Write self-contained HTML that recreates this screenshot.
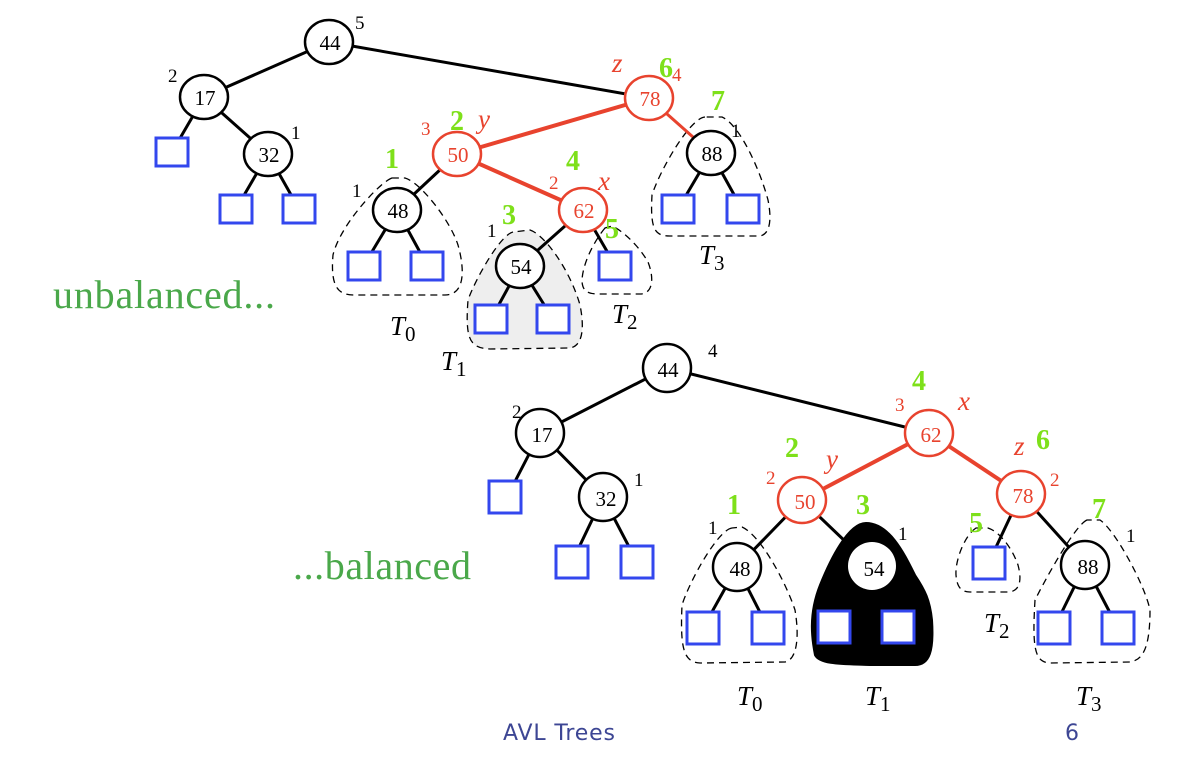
<!DOCTYPE html>
<html><head><meta charset="utf-8"><style>
html,body{margin:0;padding:0;background:#fff;}
svg{display:block;}
text{font-family:"Liberation Serif",serif;}
.n{fill:#fff;stroke:#000;stroke-width:2.5}
.r{fill:#fff;stroke:#e8432e;stroke-width:2.5}
.sq{fill:#fff;stroke:#3347ee;stroke-width:3}
.e{stroke:#000;stroke-width:3}
.re{stroke:#e8432e;stroke-width:4}
.d{fill:none;stroke:#000;stroke-width:1.3;stroke-dasharray:7,5}
.t{font-size:21px;text-anchor:middle}
.rt{font-size:21px;text-anchor:middle;fill:#e8432e}
.h{font-size:19px;fill:#000}
.rh{font-size:19px;fill:#e8432e}
.g{font-size:28px;font-weight:bold;fill:#7ee01a}
.it{font-style:italic;font-size:27px;fill:#e8432e}
.T{font-style:italic;font-size:27px}
.sub{font-size:21px;font-style:normal}
</style></head><body>
<svg width="1201" height="761" viewBox="0 0 1201 761">
<!-- TOP TREE -->
<path class="d" d="M392,178 C380,182 340,225 333,255 C330,290 340,295 355,295 L445,295 C465,295 465,270 458,245 C450,220 420,182 405,178 Z"/>
<path fill="#eeeeee" stroke="#000" stroke-width="1.3" stroke-dasharray="7,5" d="M513,232 C500,235 475,280 468,300 C465,340 470,348 490,349 L570,348 C582,346 585,330 580,305 C570,270 545,235 530,230 Z"/>
<path class="d" d="M605,228 C595,240 583,262 582,280 C582,293 590,294 600,294 L640,294 C652,294 655,280 648,262 C640,248 625,232 612,226 Z"/>
<path class="d" d="M705,117 C690,118 660,170 652,195 C650,230 655,236 670,236 L760,236 C770,234 772,220 768,200 C760,170 740,125 722,117 Z"/>
<line class="e" x1="329" y1="42" x2="204" y2="97"/>
<line class="e" x1="329" y1="42" x2="649" y2="98"/>
<line class="e" x1="204" y1="97" x2="172" y2="152"/>
<line class="e" x1="204" y1="97" x2="268" y2="154"/>
<line class="e" x1="268" y1="154" x2="236" y2="209"/>
<line class="e" x1="268" y1="154" x2="299" y2="209"/>
<line class="re" x1="649" y1="98" x2="457" y2="154"/>
<line class="re" x1="649" y1="98" x2="711" y2="153" style="stroke-width:3"/>
<line class="re" x1="457" y1="154" x2="583" y2="210"/>
<line class="e" x1="457" y1="154" x2="397" y2="210"/>
<line class="e" x1="397" y1="210" x2="364" y2="265"/>
<line class="e" x1="397" y1="210" x2="427" y2="265"/>
<line class="e" x1="583" y1="210" x2="520" y2="266"/>
<line class="e" x1="583" y1="210" x2="615" y2="265"/>
<line class="e" x1="520" y1="266" x2="491" y2="319"/>
<line class="e" x1="520" y1="266" x2="553" y2="319"/>
<line class="e" x1="711" y1="153" x2="678" y2="209"/>
<line class="e" x1="711" y1="153" x2="742" y2="209"/>
<rect class="sq" x="156" y="138" width="32" height="28"/>
<rect class="sq" x="220" y="195" width="32" height="28"/>
<rect class="sq" x="283" y="195" width="32" height="28"/>
<rect class="sq" x="348" y="252" width="32" height="28"/>
<rect class="sq" x="411" y="252" width="32" height="28"/>
<rect class="sq" x="475" y="305" width="32" height="28"/>
<rect class="sq" x="537" y="305" width="32" height="28"/>
<rect class="sq" x="599" y="252" width="32" height="28"/>
<rect class="sq" x="662" y="195" width="32" height="28"/>
<rect class="sq" x="727" y="195" width="32" height="28"/>
<ellipse class="n" cx="329" cy="42" rx="24" ry="22"/><text class="t" x="330" y="50">44</text>
<ellipse class="n" cx="204" cy="97" rx="24" ry="22"/><text class="t" x="205" y="105">17</text>
<ellipse class="n" cx="268" cy="154" rx="24" ry="22"/><text class="t" x="269" y="162">32</text>
<ellipse class="r" cx="649" cy="98" rx="24" ry="22"/><text class="rt" x="650" y="106">78</text>
<ellipse class="r" cx="457" cy="154" rx="24" ry="22"/><text class="rt" x="458" y="162">50</text>
<ellipse class="n" cx="711" cy="153" rx="24" ry="22"/><text class="t" x="712" y="161">88</text>
<ellipse class="n" cx="397" cy="210" rx="24" ry="22"/><text class="t" x="398" y="218">48</text>
<ellipse class="r" cx="583" cy="210" rx="24" ry="22"/><text class="rt" x="584" y="218">62</text>
<ellipse class="n" cx="520" cy="266" rx="24" ry="22"/><text class="t" x="521" y="274">54</text>
<text class="h" x="355" y="29">5</text>
<text class="h" x="168" y="82">2</text>
<text class="h" x="291" y="139">1</text>
<text class="h" x="731" y="137">1</text>
<text class="h" x="352" y="197">1</text>
<text class="h" x="487" y="237">1</text>
<text class="rh" x="421" y="135">3</text>
<text class="rh" x="549" y="189">2</text>
<text class="rh" x="672" y="81">4</text>
<text class="it" x="612" y="72">z</text>
<text class="it" x="478" y="128">y</text>
<text class="it" x="598" y="190">x</text>
<text class="g" x="659" y="77">6</text>
<text class="g" x="450" y="130">2</text>
<text class="g" x="711" y="110">7</text>
<text class="g" x="385" y="168">1</text>
<text class="g" x="566" y="170">4</text>
<text class="g" x="502" y="224">3</text>
<text class="g" x="605" y="238">5</text>
<text class="T" x="390" y="335">T<tspan class="sub" dy="6">0</tspan></text>
<text class="T" x="441" y="370">T<tspan class="sub" dy="6">1</tspan></text>
<text class="T" x="612" y="323">T<tspan class="sub" dy="6">2</tspan></text>
<text class="T" x="699" y="264">T<tspan class="sub" dy="6">3</tspan></text>
<text x="53" y="308" style="font-size:40px;fill:#4aa84a" textLength="222">unbalanced...</text>
<text x="293" y="579" style="font-size:40px;fill:#4aa84a" textLength="178">...balanced</text>

<!-- BOTTOM TREE -->
<path class="d" d="M732,528 C718,530 690,580 682,605 C680,650 684,662 700,663 L785,662 C796,660 800,640 795,610 C785,580 760,535 742,527 Z"/>
<path fill="#000" stroke="#000" stroke-width="2" d="M866,523 C848,523 830,560 820,585 C808,615 812,640 815,655 C820,665 845,664 870,665 L915,665 C930,665 934,650 932,620 C930,600 925,590 915,575 C905,555 890,523 866,523 Z"/>
<path class="d" d="M976,528 C965,535 955,560 956,575 C957,588 962,592 970,592 L1010,592 C1020,590 1022,580 1018,565 C1012,548 1000,532 988,528 Z"/>
<path class="d" d="M1087,520 C1075,525 1045,580 1035,600 C1032,650 1035,662 1050,663 L1130,662 C1142,660 1150,650 1150,610 C1145,585 1115,530 1100,520 Z"/>
<line class="e" x1="667" y1="368" x2="540" y2="433"/>
<line class="e" x1="667" y1="368" x2="929" y2="433"/>
<line class="e" x1="540" y1="433" x2="507" y2="497"/>
<line class="e" x1="540" y1="433" x2="603" y2="497"/>
<line class="e" x1="603" y1="497" x2="572" y2="562"/>
<line class="e" x1="603" y1="497" x2="637" y2="562"/>
<line class="re" x1="929" y1="433" x2="802" y2="500"/>
<line class="re" x1="929" y1="433" x2="1021" y2="494"/>
<line class="e" x1="802" y1="500" x2="737" y2="567"/>
<line class="e" x1="802" y1="500" x2="872" y2="567"/>
<line class="e" x1="737" y1="567" x2="703" y2="628"/>
<line class="e" x1="737" y1="567" x2="768" y2="628"/>
<line class="e" x1="1021" y1="494" x2="989" y2="562"/>
<line class="e" x1="1021" y1="494" x2="1085" y2="565"/>
<line class="e" x1="1085" y1="565" x2="1054" y2="628"/>
<line class="e" x1="1085" y1="565" x2="1118" y2="628"/>
<rect class="sq" x="489" y="481" width="32" height="32"/>
<rect class="sq" x="556" y="546" width="32" height="32"/>
<rect class="sq" x="621" y="546" width="32" height="32"/>
<rect class="sq" x="687" y="612" width="32" height="32"/>
<rect class="sq" x="752" y="612" width="32" height="32"/>
<rect class="sq" x="818" y="611" width="32" height="32"/>
<rect class="sq" x="882" y="611" width="32" height="32"/>
<rect class="sq" x="973" y="547" width="32" height="32"/>
<rect class="sq" x="1038" y="612" width="32" height="32"/>
<rect class="sq" x="1102" y="612" width="32" height="32"/>
<ellipse class="n" cx="667" cy="368" rx="24" ry="24"/><text class="t" x="668" y="377">44</text>
<ellipse class="n" cx="540" cy="433" rx="24" ry="24"/><text class="t" x="542" y="442">17</text>
<ellipse class="n" cx="603" cy="497" rx="24" ry="24"/><text class="t" x="606" y="506">32</text>
<ellipse class="r" cx="929" cy="433" rx="24" ry="23"/><text class="rt" x="931" y="442">62</text>
<ellipse class="r" cx="802" cy="500" rx="24" ry="23"/><text class="rt" x="805" y="509">50</text>
<ellipse class="r" cx="1021" cy="494" rx="24" ry="23"/><text class="rt" x="1023" y="503">78</text>
<ellipse class="n" cx="737" cy="567" rx="24" ry="24"/><text class="t" x="740" y="576">48</text>
<ellipse fill="#fff" stroke="none" cx="872" cy="566" rx="24" ry="24"/><text class="t" x="874" y="576">54</text>
<ellipse class="n" cx="1085" cy="565" rx="24" ry="24"/><text class="t" x="1088" y="574">88</text>
<text class="h" x="708" y="357">4</text>
<text class="h" x="512" y="418">2</text>
<text class="h" x="634" y="486">1</text>
<text class="h" x="708" y="534">1</text>
<text class="h" x="898" y="540">1</text>
<text class="h" x="1126" y="542">1</text>
<text class="rh" x="895" y="411">3</text>
<text class="rh" x="766" y="484">2</text>
<text class="rh" x="1050" y="486">2</text>
<text class="it" x="958" y="410">x</text>
<text class="it" x="826" y="468">y</text>
<text class="it" x="1014" y="455">z</text>
<text class="g" x="912" y="390">4</text>
<text class="g" x="785" y="457">2</text>
<text class="g" x="1036" y="449">6</text>
<text class="g" x="727" y="514">1</text>
<text class="g" x="856" y="514">3</text>
<text class="g" x="969" y="532">5</text>
<text class="g" x="1092" y="518">7</text>
<text class="T" x="737" y="705">T<tspan class="sub" dy="6">0</tspan></text>
<text class="T" x="865" y="705">T<tspan class="sub" dy="6">1</tspan></text>
<text class="T" x="984" y="632">T<tspan class="sub" dy="6">2</tspan></text>
<text class="T" x="1076" y="705">T<tspan class="sub" dy="6">3</tspan></text>
<text x="503" y="740" style="font-family:'DejaVu Sans',sans-serif;font-size:22px;fill:#3d4694" textLength="112">AVL Trees</text>
<text x="1065" y="740" style="font-family:'DejaVu Sans',sans-serif;font-size:22px;fill:#3d4694">6</text>
</svg>
</body></html>
